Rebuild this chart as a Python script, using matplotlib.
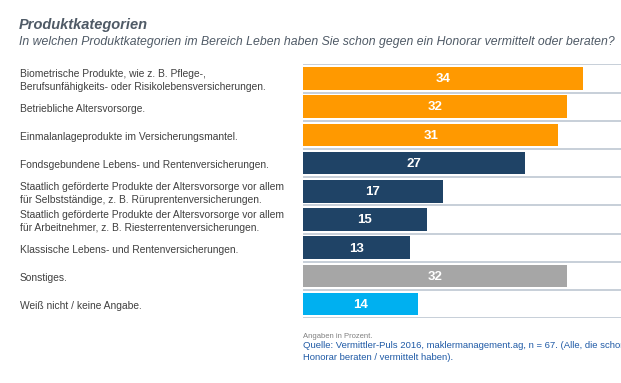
import matplotlib
matplotlib.use("Agg")
import matplotlib.pyplot as plt
from matplotlib import transforms

plt.rcParams["font.family"] = ["Liberation Sans", "DejaVu Sans"]

categories = [
    "Biometrische Produkte, wie z. B. Pflege-,\nBerufsunfähigkeits- oder Risikolebensversicherungen.",
    "Betriebliche Altersvorsorge.",
    "Einmalanlageprodukte im Versicherungsmantel.",
    "Fondsgebundene Lebens- und Rentenversicherungen.",
    "Staatlich geförderte Produkte der Altersvorsorge vor allem\nfür Selbstständige, z. B. Rüruprentenversicherungen.",
    "Staatlich geförderte Produkte der Altersvorsorge vor allem\nfür Arbeitnehmer, z. B. Riesterrentenversicherungen.",
    "Klassische Lebens- und Rentenversicherungen.",
    "Sonstiges.",
    "Weiß nicht / keine Angabe.",
]
values = [34, 32, 31, 27, 17, 15, 13, 32, 14]
groups = ["top", "top", "top", "mid", "mid", "mid", "mid", "other", "unknown"]

colors = {"top": "#FF9900", "mid": "#1F4366", "other": "#A6A6A6", "unknown": "#00B0F0"}

title = "Produktkategorien"
subtitle = ("In welchen Produktkategorien im Bereich Leben haben Sie schon "
            "gegen ein Honorar vermittelt oder beraten?")
note = "Angaben in Prozent."
source = ("Quelle: Vermittler-Puls 2016, maklermanagement.ag, n = 67. (Alle, die schon gegen ein\n"
          "Honorar beraten / vermittelt haben).")

W, H = 621, 383
fig = plt.figure(figsize=(W / 100, H / 100), dpi=100)
fig.patch.set_facecolor("white")

# axes box in pixel terms
left, right, top, bottom = 303, 621, 64.3, 318.3
ax = fig.add_axes([left / W, 1 - bottom / H, (right - left) / W, (bottom - top) / H])

n = len(values)
ypos = list(range(n))
ax.barh(ypos, values, height=0.8, color=[colors[g] for g in groups], zorder=2)
for y, v in zip(ypos, values):
    ax.text(v / 2, y + 0.03, str(v), ha="center", va="center", color="white",
            fontsize=9.5, fontweight="bold", zorder=3)

for b in range(n + 1):
    ax.axhline(b - 0.5, color="#C3CBD6", lw=1.3, zorder=1)

ax.set_xlim(0, (right - left) / 8.24)
ax.set_ylim(n - 0.5, -0.5)
ax.axis("off")

# category labels on the left
trans = transforms.blended_transform_factory(fig.transFigure, ax.transData)
for y, cat in zip(ypos, categories):
    ax.text(20 / W, y + 0.07, cat, transform=trans, ha="left", va="center",
            fontsize=7.4, color="#404040", linespacing=1.35)

fig.text(19 / W, 1 - 25.5 / H, title, fontsize=10.5, fontweight="bold",
         fontstyle="italic", color="#4F5A66", va="center", ha="left")
fig.text(19 / W, 1 - 42.5 / H, subtitle, fontsize=8.85, fontstyle="italic",
         color="#4F5A66", va="center", ha="left")

fig.text(left / W, 1 - 336 / H, note, fontsize=5.5, color="#808080",
         va="center", ha="left")
fig.text(left / W, 1 - 351.7 / H, source, fontsize=6.8, color="#1F5AA6",
         va="center", ha="left", linespacing=1.45)

fig.savefig("out.png", dpi=100, facecolor="white")
